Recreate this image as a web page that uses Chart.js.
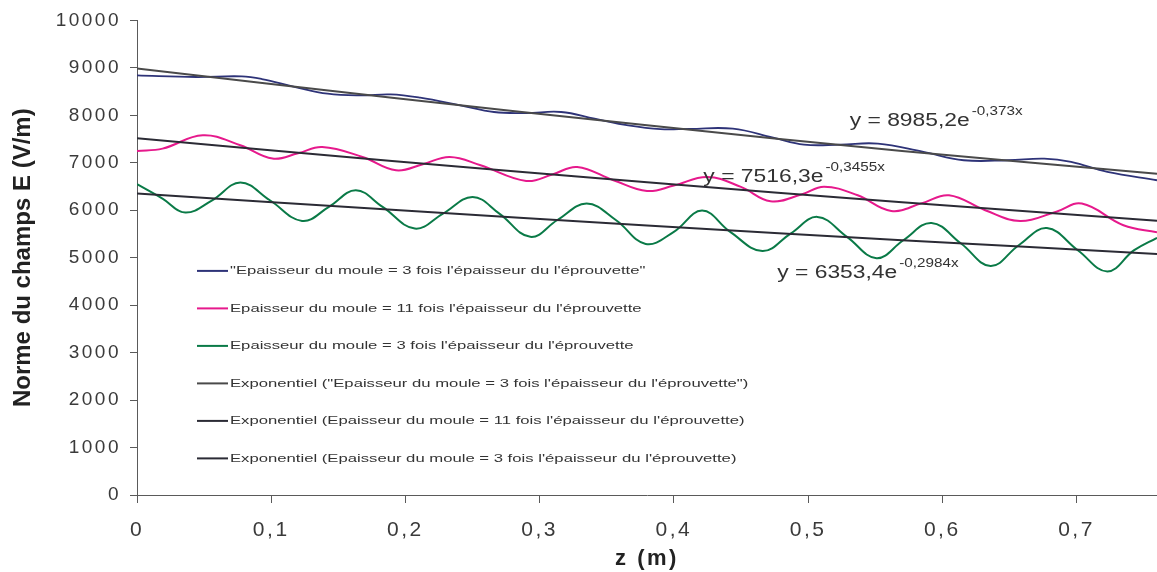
<!DOCTYPE html>
<html>
<head>
<meta charset="utf-8">
<script src="https://cdn.jsdelivr.net/npm/chart.js@4/dist/chart.umd.min.js"></script>
<style>
  html, body { margin: 0; padding: 0; background: #ffffff; }
  #wrap { position: relative; width: 1157px; height: 572px; }
</style>
</head>
<body>
<div id="wrap"><canvas id="c"></canvas></div>
<script>
// ---- data ----
const seriesLabels = [
  '"Epaisseur du moule = 3 fois l\'épaisseur du l\'éprouvette"',
  'Epaisseur du moule = 11 fois l\'épaisseur du l\'éprouvette',
  'Epaisseur du moule = 3 fois l\'épaisseur du l\'éprouvette',
  'Exponentiel ("Epaisseur du moule = 3 fois l\'épaisseur du l\'éprouvette")',
  'Exponentiel (Epaisseur du moule = 11 fois l\'épaisseur du l\'éprouvette)',
  'Exponentiel (Epaisseur du moule = 3 fois l\'épaisseur du l\'éprouvette)'
];

const zBlue = [0, 0.044, 0.078, 0.093, 0.118, 0.142, 0.167, 0.189, 0.211, 0.241, 0.266, 0.29, 0.316, 0.341, 0.366, 0.39, 0.412, 0.444, 0.474, 0.497, 0.524, 0.552, 0.586, 0.616, 0.649, 0.676, 0.696, 0.723, 0.76];
const eBlue = [8840, 8807, 8821, 8765, 8596, 8456, 8421, 8442, 8372, 8210, 8070, 8049, 8070, 7930, 7789, 7710, 7715, 7719, 7530, 7383, 7383, 7404, 7228, 7053, 7053, 7088, 7018, 6807, 6632];

const zPink = [0, 0.019, 0.049, 0.077, 0.101, 0.12, 0.138, 0.168, 0.193, 0.213, 0.233, 0.256, 0.29, 0.31, 0.328, 0.355, 0.38, 0.40, 0.425, 0.45, 0.472, 0.495, 0.512, 0.537, 0.562, 0.585, 0.605, 0.632, 0.658, 0.685, 0.704, 0.735, 0.76];
const ePink = [7249, 7298, 7579, 7368, 7088, 7200, 7333, 7123, 6842, 6970, 7123, 6947, 6617, 6760, 6912, 6632, 6405, 6520, 6700, 6491, 6190, 6330, 6495, 6316, 5985, 6150, 6316, 6000, 5772, 5970, 6140, 5684, 5535];

const zGreen = [0, 0.019, 0.036, 0.056, 0.077, 0.099, 0.123, 0.143, 0.163, 0.183, 0.207, 0.228, 0.250, 0.270, 0.293, 0.313, 0.335, 0.357, 0.379, 0.400, 0.421, 0.442, 0.466, 0.487, 0.507, 0.529, 0.551, 0.571, 0.592, 0.614, 0.636, 0.657, 0.678, 0.701, 0.723, 0.743, 0.76];
const eGreen = [6550, 6246, 5951, 6210, 6583, 6210, 5775, 6070, 6421, 6070, 5614, 5930, 6281, 5930, 5439, 5789, 6140, 5789, 5290, 5544, 5993, 5544, 5140, 5509, 5860, 5439, 4990, 5368, 5733, 5298, 4825, 5263, 5625, 5158, 4710, 5158, 5420];

const zTrend = [0, 0.19, 0.38, 0.57, 0.76];
const eTrendBlue  = [8985, 8370, 7790, 7250, 6770];
const eTrendPink  = [7516, 7040, 6590, 6170, 5780];
const eTrendGreen = [6353, 6010, 5680, 5370, 5080];

const xTickLabels = ['0', '0,1', '0,2', '0,3', '0,4', '0,5', '0,6', '0,7'];
const yTickLabels = ['0', '1000', '2000', '3000', '4000', '5000', '6000', '7000', '8000', '9000', '10000'];

const eqMain = ['y = 8985,2e', 'y = 7516,3e', 'y = 6353,4e'];
const eqExp  = ['-0,373x', '-0,3455x', '-0,2984x'];

// ---- styling / placement (not data) ----
const FONT = '"Liberation Sans", Arial, Helvetica, sans-serif';
const colors = ['#2E3378', '#E6198C', '#0A7A47', '#4a4a4a', '#2b2b35', '#2b2b35'];
const eqPos = [[0.531, 7768], [0.422, 6589], [0.477, 4568]]; // anchor in axis units (left, baseline)

function pts(xs, ys) { return xs.map((x, i) => ({ x: x, y: ys[i] })); }

const seriesData = [
  pts(zBlue, eBlue), pts(zPink, ePink), pts(zGreen, eGreen),
  pts(zTrend, eTrendBlue), pts(zTrend, eTrendPink), pts(zTrend, eTrendGreen)
];

const datasets = seriesData.map((d, i) => ({
  label: seriesLabels[i],
  data: d,
  borderColor: colors[i],
  backgroundColor: colors[i],
  borderWidth: i === 0 ? 1.8 : 2,
  pointRadius: 0,
  pointHoverRadius: 0,
  tension: 0.4,
  fill: false,
  order: i < 3 ? 1 : 0
}));

const spacingPlugin = {
  id: 'spacing',
  beforeDraw(chart) { chart.ctx.letterSpacing = '0px'; },
  afterDatasetsDraw(chart) { chart.ctx.letterSpacing = '2.5px'; },
  afterDraw(chart) { chart.ctx.letterSpacing = '0px'; }
};

function stretchedText(ctx, text, x, y, sx) {
  ctx.save();
  ctx.translate(x, y);
  ctx.scale(sx, 1);
  ctx.fillText(text, 0, 0);
  const w = ctx.measureText(text).width * sx;
  ctx.restore();
  return w;
}

const overlayPlugin = {
  id: 'overlay',
  afterDraw(chart) {
    const ctx = chart.ctx;
    const area = chart.chartArea;
    ctx.save();
    ctx.letterSpacing = '0px';
    // legend inside plot area
    const lx = area.left + 60, ly = area.top + 250, gap = 37.5;
    chart.data.datasets.forEach((ds, i) => {
      const y = ly + i * gap;
      ctx.strokeStyle = ds.borderColor;
      ctx.lineWidth = 2;
      ctx.beginPath();
      ctx.moveTo(lx, y + 0.5);
      ctx.lineTo(lx + 31, y + 0.5);
      ctx.stroke();
      ctx.fillStyle = '#333333';
      ctx.font = '11.5px ' + FONT;
      ctx.textBaseline = 'middle';
      ctx.textAlign = 'left';
      stretchedText(ctx, ds.label, lx + 33, y + 0.5, 1.45);
    });
    // trendline equations
    const xs = chart.scales.x, ys = chart.scales.y;
    ctx.textBaseline = 'alphabetic';
    ctx.fillStyle = '#333333';
    eqMain.forEach((t, i) => {
      const px = xs.getPixelForValue(eqPos[i][0]);
      const py = ys.getPixelForValue(eqPos[i][1]);
      ctx.font = '18px ' + FONT;
      const w = stretchedText(ctx, t, px, py, 1.27);
      ctx.font = '12px ' + FONT;
      stretchedText(ctx, eqExp[i], px + w + 2, py - 11, 1.27);
    });
    ctx.restore();
  }
};

new Chart(document.getElementById('c'), {
  type: 'line',
  data: { datasets: datasets },
  plugins: [spacingPlugin, overlayPlugin],
  options: {
    responsive: true,
    maintainAspectRatio: false,
    animation: false,
    layout: { padding: { top: 20, right: 0, left: 0, bottom: 0 } },
    plugins: {
      legend: { display: false },
      tooltip: { enabled: false }
    },
    scales: {
      x: {
        type: 'linear',
        min: 0,
        max: 0.76,
        afterFit(s) { s.height = 77; },
        border: { display: true, color: '#5a5a5a', width: 1, z: 1 },
        grid: { drawOnChartArea: false, drawTicks: true, tickLength: 8, color: '#5a5a5a', z: 1 },
        ticks: {
          stepSize: 0.1,
          includeBounds: false,
          autoSkip: false,
          maxRotation: 0,
          padding: 15,
          z: 1,
          color: '#3a3a3a',
          font: { family: FONT, size: 21 },
          callback(v) { return xTickLabels[Math.round(v * 10)]; }
        },
        title: {
          display: true,
          text: 'z (m)',
          color: '#222222',
          font: { family: FONT, size: 22, weight: 'bold' },
          padding: { top: 0, bottom: 0 }
        }
      },
      y: {
        min: 0,
        max: 10000,
        afterFit(s) { s.width = 137; },
        border: { display: true, color: '#5a5a5a', width: 1 },
        grid: { drawOnChartArea: false, drawTicks: true, tickLength: 7, color: '#5a5a5a' },
        ticks: {
          stepSize: 1000,
          padding: 9,
          z: 1,
          color: '#3a3a3a',
          font: { family: FONT, size: 19 },
          callback(v) { return yTickLabels[Math.round(v / 1000)]; }
        },
        title: {
          display: true,
          text: 'Norme du champs E (V/m)',
          color: '#222222',
          font: { family: FONT, size: 24, weight: 'bold' },
          padding: { top: 9, bottom: 0 }
        }
      }
    }
  }
});
</script>
</body>
</html>
